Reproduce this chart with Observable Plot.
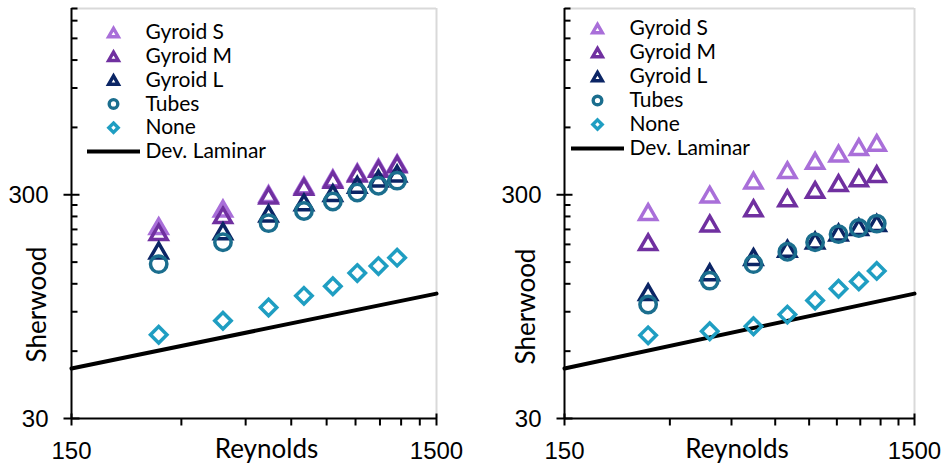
<!DOCTYPE html>
<html>
<head>
<meta charset="utf-8">
<script src="https://cdn.jsdelivr.net/npm/d3@7"></script>
<script src="https://cdn.jsdelivr.net/npm/@observablehq/plot@0.6"></script>
<style>
  body { margin: 0; background: #fff; }
  #wrap { display: flex; width: 948px; height: 464px; }
  #wrap svg { display: block; }
</style>
</head>
<body>
<div id="wrap"></div>
<script>
// Reynolds numbers of the measurement points (shared by both panels)
const reynolds = [260, 390, 520, 650, 780, 910, 1040, 1170];

// Series definitions
const seriesNames = ["Gyroid S", "Gyroid M", "Gyroid L", "Tubes", "None"];
const seriesColors = ["#a96fd9", "#7030a0", "#0b2565", "#1b6e8e", "#1f9ec2"];
const seriesSymbols = ["triangle", "triangle", "triangle", "circle", "diamond2"];

// Left panel: Sherwood numbers
const leftGyroidS = [217, 260, 302, 330, 355, 378, 397, 415];
const leftGyroidM = [204, 243, 297, 325, 350, 373, 391, 410];
const leftGyroidL = [169, 206, 247, 277, 305, 332, 354, 373];
const leftTubes   = [147, 184, 224, 254, 280, 307, 329, 347];
const leftNone    = [71, 82, 94, 106, 117, 134, 144, 157];

// Right panel: Sherwood numbers
const rightGyroidS = [251, 300, 347, 386, 425, 458, 490, 511];
const rightGyroidM = [184, 223, 261, 289, 315, 338, 355, 371];
const rightGyroidL = [110, 135, 158, 172, 187, 203, 215, 224];
const rightTubes   = [97, 124, 147, 167, 184, 200, 213, 223];
const rightNone    = [70.6, 73.6, 77.5, 87.4, 101, 114, 123, 137];

// Developing laminar flow correlation
const laminarName = "Dev. Laminar";
const laminarRe = [150, 1500];
const laminarSh = [50.2, 108.5];

// Axes
const xDomain = [150, 1500];
const yDomain = [30, 2040];
const xTickLabels = [150, 1500];
const xMinorTicks = [300, 450, 600, 750, 900, 1050, 1200, 1350];
const yTickLabels = [30, 300];
const yMinorTicks = [60, 90, 120, 150, 180, 210, 240, 270, 600, 900, 1200, 1500, 1800, 2040];
const xLabel = "Reynolds";
const yLabel = "Sherwood";

const labelFont = "Lato, 'Noto Sans', sans-serif";
const tickFont = "'Liberation Sans', Arial, sans-serif";

// Short straight segments used as custom symbols for ticks and the legend line
const hSeg = (a, b) => ({ draw(ctx) { ctx.moveTo(a, 0); ctx.lineTo(b, 0); } });
const vSeg = (a, b) => ({ draw(ctx) { ctx.moveTo(0, a); ctx.lineTo(0, b); } });

const markerR = { triangle: 6.3, circle: 8.2, diamond2: 7.4 };
const legendR = { triangle: 3.6, circle: 4.3, diamond2: 4.2 };

function panel(values, cfg) {
  const laminar = laminarRe.map((re, i) => ({ re, sh: laminarSh[i] }));
  const marks = [
    // light frame on the top and right
    Plot.ruleY([yDomain[1]], { stroke: "#d9d9d9", strokeWidth: 2 }),
    Plot.ruleX([xDomain[1]], { stroke: "#d9d9d9", strokeWidth: 2 }),
    // correlation line
    Plot.line(laminar, { x: "re", y: "sh", stroke: "black", strokeWidth: 4 })
  ];
  // measured series
  seriesNames.forEach((name, i) => {
    const sym = seriesSymbols[i];
    const r = markerR[sym];
    marks.push(Plot.dot(values[i].map((sh, j) => ({ re: reynolds[j], sh })), {
      x: "re", y: "sh", symbol: sym, r, fill: "none",
      stroke: seriesColors[i], strokeWidth: 3.5,
      dy: sym === "triangle" ? 0.389 * r : 0
    }));
  });
  // axis lines
  marks.push(
    Plot.ruleX([xDomain[0]], { stroke: "black", strokeWidth: 2 }),
    Plot.ruleY([yDomain[0]], { stroke: "black", strokeWidth: 2 }),
    // y ticks
    Plot.dot(yTickLabels, { x: () => xDomain[0], y: d => d, symbol: hSeg(-8, 8), stroke: "black", strokeWidth: 2, fill: "none" }),
    Plot.dot(yMinorTicks, { x: () => xDomain[0], y: d => d, symbol: hSeg(0, 6), stroke: "black", strokeWidth: 2, fill: "none" }),
    // x ticks
    Plot.dot(xTickLabels, { x: d => d, y: () => yDomain[0], symbol: vSeg(-5, 7), stroke: "black", strokeWidth: 2, fill: "none" }),
    Plot.dot(xMinorTicks, { x: d => d, y: () => yDomain[0], symbol: vSeg(0, 7), stroke: "black", strokeWidth: 2, fill: "none" }),
    // tick labels
    Plot.text(yTickLabels, { x: () => xDomain[0], y: d => d, text: d => String(d), textAnchor: "end", lineAnchor: "middle", dx: -23, dy: 1, fontSize: 24, fontFamily: tickFont, fill: "black" }),
    Plot.text(xTickLabels, { x: d => d, y: () => yDomain[0], text: d => String(d), textAnchor: "middle", lineAnchor: "middle", dy: 33, fontSize: 24, fontFamily: tickFont, fill: "black" }),
    // axis titles
    Plot.text([xLabel], { frameAnchor: "bottom", text: d => d, textAnchor: "middle", lineAnchor: "middle", dx: cfg.xLabelDx, dy: 31, fontSize: 26, fontFamily: labelFont, fill: "black" }),
    Plot.text([yLabel], { frameAnchor: "left", text: d => d, rotate: -90, textAnchor: "middle", lineAnchor: "middle", dx: cfg.yLabelDx, dy: cfg.yLabelDy, fontSize: 26, fontFamily: labelFont, fill: "black" })
  );
  // legend
  seriesNames.forEach((name, i) => {
    const sym = seriesSymbols[i];
    const r = legendR[sym];
    const rowY = cfg.legendTop + i * cfg.legendStep;
    marks.push(
      Plot.dot([name], { frameAnchor: "top-left", symbol: sym, r, fill: "none", stroke: seriesColors[i], strokeWidth: 3.4,
        dx: cfg.legendMarkX, dy: rowY + (sym === "triangle" ? 0.389 * r : 0) }),
      Plot.text([name], { frameAnchor: "top-left", text: d => d, textAnchor: "start", lineAnchor: "middle", dx: cfg.legendTextX, dy: rowY, fontSize: 21, fontFamily: labelFont, fill: "black" })
    );
  });
  const lineRow = cfg.legendTop + seriesNames.length * cfg.legendStep;
  marks.push(
    Plot.dot([laminarName], { frameAnchor: "top-left", symbol: hSeg(-26.5, 26.5), stroke: "black", strokeWidth: 4, fill: "none", dx: cfg.legendMarkX, dy: lineRow }),
    Plot.text([laminarName], { frameAnchor: "top-left", text: d => d, textAnchor: "start", lineAnchor: "middle", dx: cfg.legendTextX, dy: lineRow, fontSize: 21, fontFamily: labelFont, fill: "black" })
  );

  return Plot.plot({
    width: 474,
    height: 464,
    marginLeft: cfg.marginLeft,
    marginRight: cfg.marginRight,
    marginTop: 8,
    marginBottom: 46,
    x: { type: "log", domain: xDomain, axis: null },
    y: { type: "log", domain: yDomain, axis: null },
    style: { background: "white", overflow: "visible" },
    marks
  });
}

const wrap = document.getElementById("wrap");
wrap.append(
  panel([leftGyroidS, leftGyroidM, leftGyroidL, leftTubes, leftNone], {
    marginLeft: 71, marginRight: 38,
    xLabelDx: 12.5, yLabelDx: -34, yLabelDy: 91,
    legendMarkX: 42, legendTextX: 74, legendTop: 24, legendStep: 23.8
  }),
  panel([rightGyroidS, rightGyroidM, rightGyroidL, rightTubes, rightNone], {
    marginLeft: 90, marginRight: 34,
    xLabelDx: -2.5, yLabelDx: -38, yLabelDy: 93,
    legendMarkX: 33, legendTextX: 65, legendTop: 20, legendStep: 24
  })
);
</script>
</body>
</html>
